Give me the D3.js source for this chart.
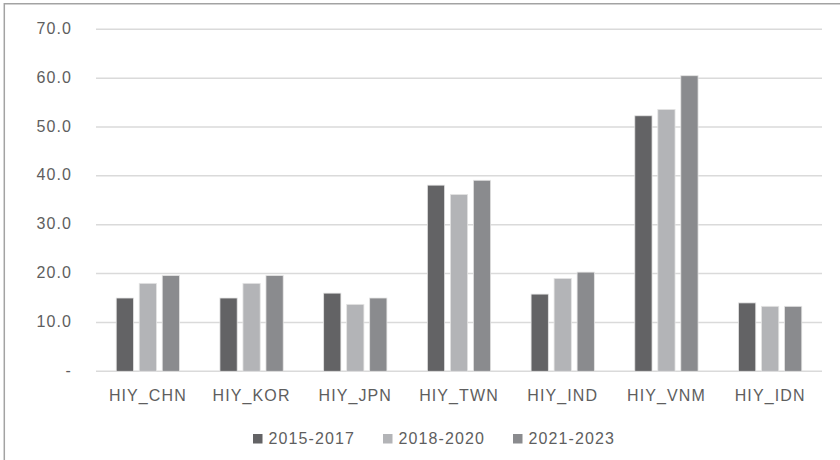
<!DOCTYPE html>
<html><head><meta charset="utf-8">
<script src="https://cdn.jsdelivr.net/npm/d3@7"></script>
<style>
html,body{margin:0;padding:0;background:#fff;}
svg{display:block;}
text{font-family:"Liberation Sans",Arial,sans-serif;fill:#5e5e5e;font-size:16px;letter-spacing:1.1px;}
</style></head>
<body>
<script>
const categories = ["HIY_CHN","HIY_KOR","HIY_JPN","HIY_TWN","HIY_IND","HIY_VNM","HIY_IDN"];
const seriesNames = ["2015-2017","2018-2020","2021-2023"];
const s2015 = [15.0, 15.0, 16.0, 38.1, 15.8, 52.3, 14.0];
const s2018 = [18.0, 18.0, 13.7, 36.2, 19.0, 53.6, 13.3];
const s2021 = [19.6, 19.6, 15.0, 39.1, 20.3, 60.5, 13.3];
const yTicks = [0,10,20,30,40,50,60,70];
const colors = ["#636365","#b3b4b7","#8a8b8e"];

const seriesValues = [s2015, s2018, s2021];
const W = 840, H = 460;
const svg = d3.select("body").append("svg").attr("width", W).attr("height", H);

// frame
svg.append("line").attr("x1",4).attr("x2",W).attr("y1",3.8).attr("y2",3.8).attr("stroke","#a3a3a3").attr("stroke-width",1.5);
svg.append("line").attr("x1",4.3).attr("x2",4.3).attr("y1",3).attr("y2",H).attr("stroke","#a3a3a3").attr("stroke-width",1.5);

const y = d3.scaleLinear().domain([0,70]).range([371.3, 29.3]);
const x0 = d3.scaleBand().domain(categories).range([96, 822]).paddingInner(0.39).paddingOuter(0.195);
const x1 = d3.scaleBand().domain(seriesNames).range([0, x0.bandwidth()]).paddingInner(0.25);

// gridlines
svg.append("g").selectAll("line").data(yTicks).join("line")
  .attr("x1",96).attr("x2",822)
  .attr("y1",d=>y(d)).attr("y2",d=>y(d))
  .attr("stroke","#dadada").attr("stroke-width",1.5);

// y labels
svg.append("g").selectAll("text").data(yTicks).join("text")
  .attr("x",72).attr("y",d=>y(d)+4.5)
  .attr("text-anchor","end")
  .text(d=> d===0 ? "-" : d3.format(".1f")(d));

// bars
const groups = svg.append("g").selectAll("g").data(categories).join("g")
  .attr("transform",d=>`translate(${x0(d)},0)`);
groups.selectAll("rect").data((c,i)=>seriesNames.map((s,j)=>({s, v:seriesValues[j][i], j})))
  .join("rect")
  .attr("x",d=>x1(d.s)).attr("width",x1.bandwidth())
  .attr("y",d=>y(d.v)).attr("height",d=>y(0)-y(d.v))
  .attr("fill",d=>colors[d.j])
  .attr("stroke","#e4e4e4").attr("stroke-width",0.8);

// x labels
svg.append("g").selectAll("text").data(categories).join("text")
  .attr("x",d=>x0(d)+x0.bandwidth()/2).attr("y",401)
  .attr("text-anchor","middle").text(d=>d);

// legend
const legX = [253, 383, 513];
const leg = svg.append("g").selectAll("g").data(seriesNames).join("g")
  .attr("transform",(d,i)=>`translate(${legX[i]},0)`);
leg.append("rect").attr("x",0).attr("y",434).attr("width",9.5).attr("height",9.5).attr("fill",(d,i)=>colors[i]);
leg.append("text").attr("x",15.5).attr("y",444).text(d=>d);
</script>
</body></html>
